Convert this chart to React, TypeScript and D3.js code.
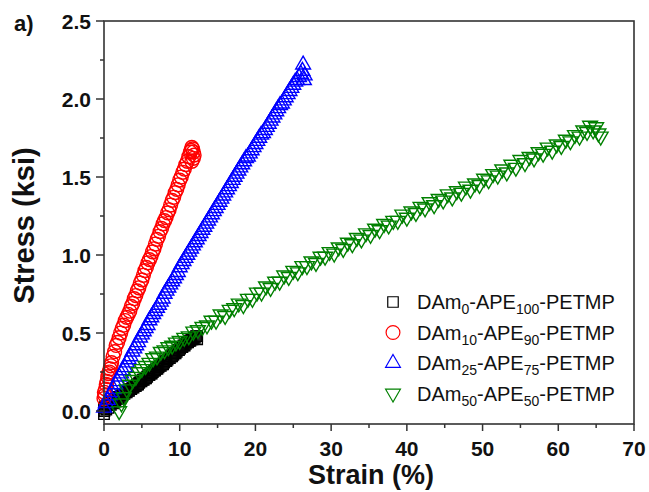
import React from "react";
import * as d3 from "d3";

// ---- Data ----
const seriesNames = ["DAm0-APE100-PETMP", "DAm10-APE90-PETMP", "DAm25-APE75-PETMP", "DAm50-APE50-PETMP"];
const legendParts: [string, string, string, string][] = [
  ["DAm", "0", "-APE", "100"],
  ["DAm", "10", "-APE", "90"],
  ["DAm", "25", "-APE", "75"],
  ["DAm", "50", "-APE", "50"],
];
const seriesColors = ["#000000", "#ff0000", "#0000ff", "#008000"];
const seriesSymbols = ["square", "circle", "triangleUp", "triangleDown"];

const xTicks = [0, 10, 20, 30, 40, 50, 60, 70];
const xMinorTicks = [5, 15, 25, 35, 45, 55, 65];
const yTicks = [0.0, 0.5, 1.0, 1.5, 2.0, 2.5];
const yMinorTicks = [0.25, 0.75, 1.25, 1.75, 2.25];

const dam0: [number, number][] = [
  [0, -0.02], [0, 0.02], [0.05, 0.0], [0.15, 0.03], [0.3, 0.01], [0.45, 0.04], [0.6, 0.02], [0.75, 0.05],
  [0.9, 0.04], [1.05, 0.06], [1.2, 0.05], [1.35, 0.07], [1.5, 0.06], [1.65, 0.08], [1.8, 0.08], [1.95, 0.09],
  [2.1, 0.08], [2.25, 0.1], [2.4, 0.1], [2.55, 0.11], [2.7, 0.11], [2.85, 0.12], [3.0, 0.12], [3.15, 0.13],
  [3.3, 0.13], [3.45, 0.14], [3.6, 0.14], [3.75, 0.15], [3.9, 0.15], [4.05, 0.16], [4.2, 0.16], [4.35, 0.17],
  [4.5, 0.17], [4.65, 0.18], [4.8, 0.19], [4.95, 0.19], [5.1, 0.2], [5.25, 0.2], [5.4, 0.21], [5.55, 0.21],
  [5.7, 0.22], [5.85, 0.23], [6.0, 0.23], [6.15, 0.24], [6.3, 0.24], [6.45, 0.25], [6.6, 0.26], [6.75, 0.26],
  [6.9, 0.27], [7.05, 0.27], [7.2, 0.28], [7.35, 0.29], [7.5, 0.29], [7.65, 0.3], [7.8, 0.3], [7.95, 0.31],
  [8.1, 0.32], [8.25, 0.32], [8.4, 0.33], [8.55, 0.34], [8.7, 0.34], [8.85, 0.35], [9.0, 0.35], [9.15, 0.36],
  [9.3, 0.37], [9.45, 0.37], [9.6, 0.38], [9.75, 0.39], [9.9, 0.39], [10.05, 0.4], [10.2, 0.41], [10.35, 0.41],
  [10.5, 0.42], [10.65, 0.42], [10.8, 0.43], [10.95, 0.44], [11.1, 0.44], [11.25, 0.45], [11.4, 0.45],
  [11.55, 0.46], [11.7, 0.46], [11.85, 0.47], [12.0, 0.47], [12.15, 0.48], [12.3, 0.48], [12.3, 0.46],
];

const dam10: [number, number][] = [
  [0.0, 0.08], [0.05, 0.12], [0.1, 0.1], [0.2, 0.14], [0.3, 0.17], [0.4, 0.19], [0.5, 0.22], [0.6, 0.24],
  [0.7, 0.25], [0.8, 0.27], [0.9, 0.29], [1.0, 0.31], [1.2, 0.35], [1.4, 0.38], [1.6, 0.42], [1.8, 0.44],
  [2.0, 0.47], [2.2, 0.5], [2.4, 0.53], [2.6, 0.55], [2.8, 0.58], [3.0, 0.6], [3.2, 0.62], [3.4, 0.64],
  [3.6, 0.67], [3.8, 0.69], [4.0, 0.72], [4.2, 0.74], [4.4, 0.77], [4.6, 0.79], [4.8, 0.82], [5.0, 0.84],
  [5.2, 0.87], [5.4, 0.9], [5.6, 0.92], [5.8, 0.95], [6.0, 0.97], [6.2, 0.99], [6.4, 1.02], [6.6, 1.04],
  [6.8, 1.07], [7.0, 1.1], [7.2, 1.12], [7.4, 1.15], [7.6, 1.17], [7.8, 1.2], [8.0, 1.22], [8.2, 1.24],
  [8.4, 1.27], [8.6, 1.29], [8.8, 1.32], [9.0, 1.35], [9.2, 1.37], [9.4, 1.4], [9.6, 1.42], [9.8, 1.45],
  [10.0, 1.48], [10.2, 1.5], [10.4, 1.53], [10.6, 1.55], [10.8, 1.58], [11.0, 1.6], [11.2, 1.63], [11.4, 1.66],
  [11.5, 1.67], [11.6, 1.69], [11.7, 1.68], [11.8, 1.66], [11.9, 1.64], [11.8, 1.62], [11.6, 1.6],
];

const dam25: [number, number][] = [
  [0.0, 0.02], [0.25, 0.05], [0.5, 0.07], [0.75, 0.1], [1.0, 0.12], [1.25, 0.14], [1.5, 0.17], [1.75, 0.19],
  [2.0, 0.22], [2.25, 0.24], [2.5, 0.26], [2.75, 0.28], [3.0, 0.31], [3.25, 0.33], [3.5, 0.35], [3.75, 0.38],
  [4.0, 0.4], [4.25, 0.42], [4.5, 0.44], [4.75, 0.47], [5.0, 0.49], [5.25, 0.51], [5.5, 0.53], [5.75, 0.55],
  [6.0, 0.58], [6.25, 0.6], [6.5, 0.62], [6.75, 0.64], [7.0, 0.66], [7.25, 0.68], [7.5, 0.7], [7.75, 0.72],
  [8.0, 0.75], [8.25, 0.77], [8.5, 0.79], [8.75, 0.81], [9.0, 0.83], [9.25, 0.85], [9.5, 0.87], [9.75, 0.89],
  [10.0, 0.92], [10.25, 0.94], [10.5, 0.96], [10.75, 0.98], [11.0, 1.0], [11.25, 1.02], [11.5, 1.04],
  [11.75, 1.06], [12.0, 1.08], [12.25, 1.1], [12.5, 1.12], [12.75, 1.14], [13.0, 1.16], [13.25, 1.18],
  [13.5, 1.2], [13.75, 1.22], [14.0, 1.24], [14.25, 1.26], [14.5, 1.28], [14.75, 1.3], [15.0, 1.32],
  [15.25, 1.34], [15.5, 1.36], [15.75, 1.38], [16.0, 1.4], [16.25, 1.42], [16.5, 1.44], [16.75, 1.46],
  [17.0, 1.48], [17.25, 1.5], [17.5, 1.52], [17.75, 1.54], [18.0, 1.56], [18.25, 1.58], [18.5, 1.6],
  [18.75, 1.62], [19.0, 1.63], [19.25, 1.65], [19.5, 1.67], [19.75, 1.69], [20.0, 1.71], [20.25, 1.73],
  [20.5, 1.75], [20.75, 1.77], [21.0, 1.78], [21.25, 1.8], [21.5, 1.82], [21.75, 1.84], [22.0, 1.86],
  [22.25, 1.88], [22.5, 1.9], [22.75, 1.92], [23.0, 1.94], [23.25, 1.96], [23.5, 1.97], [23.75, 1.99],
  [24.0, 2.01], [24.25, 2.03], [24.5, 2.05], [24.75, 2.07], [25.0, 2.09], [25.25, 2.11], [25.5, 2.12],
  [25.75, 2.14], [26.0, 2.16], [26.2, 2.18], [26.3, 2.22], [26.5, 2.15], [26.4, 2.12],
];

const dam50: [number, number][] = [
  [2.0, 0.0], [2.3, 0.05], [2.6, 0.09], [3.0, 0.14], [3.4, 0.17], [3.8, 0.2], [4.2, 0.22], [4.6, 0.25],
  [5.0, 0.27], [5.5, 0.29], [6.0, 0.31], [6.5, 0.34], [7.0, 0.35], [7.5, 0.38], [8.0, 0.39], [8.5, 0.41],
  [9.0, 0.42], [9.5, 0.44], [10.0, 0.45], [10.6, 0.47], [11.2, 0.48], [11.8, 0.51], [12.4, 0.52], [13.0, 0.54],
  [13.6, 0.55], [14.2, 0.58], [14.8, 0.58], [15.4, 0.62], [16.0, 0.61], [16.6, 0.65], [17.2, 0.66], [17.8, 0.69],
  [18.4, 0.68], [19.0, 0.72], [19.6, 0.72], [20.2, 0.76], [20.8, 0.76], [21.4, 0.8], [22.0, 0.79], [22.6, 0.83],
  [23.2, 0.83], [23.8, 0.87], [24.4, 0.86], [25.0, 0.9], [25.6, 0.89], [26.2, 0.93], [26.8, 0.93], [27.4, 0.96],
  [28.0, 0.95], [28.6, 0.99], [29.2, 0.99], [29.8, 1.02], [30.4, 1.01], [31.0, 1.05], [31.6, 1.04], [32.2, 1.08],
  [32.8, 1.07], [33.4, 1.11], [34.0, 1.1], [34.6, 1.14], [35.2, 1.13], [35.8, 1.17], [36.4, 1.16], [37.0, 1.2],
  [37.6, 1.19], [38.2, 1.22], [38.8, 1.22], [39.4, 1.26], [40.0, 1.24], [40.6, 1.28], [41.2, 1.27], [41.8, 1.31],
  [42.4, 1.3], [43.0, 1.34], [43.6, 1.32], [44.2, 1.36], [44.8, 1.35], [45.4, 1.39], [46.0, 1.37], [46.6, 1.41],
  [47.2, 1.4], [47.8, 1.44], [48.4, 1.42], [49.0, 1.46], [49.6, 1.45], [50.2, 1.49], [50.8, 1.48], [51.4, 1.52],
  [52.0, 1.51], [52.6, 1.55], [53.2, 1.53], [53.8, 1.58], [54.4, 1.56], [55.0, 1.61], [55.6, 1.59], [56.2, 1.63],
  [56.8, 1.62], [57.4, 1.66], [58.0, 1.65], [58.6, 1.69], [59.2, 1.67], [59.8, 1.71], [60.4, 1.7], [61.0, 1.74],
  [61.6, 1.73], [62.2, 1.77], [62.8, 1.76], [63.3, 1.8], [63.8, 1.79], [64.2, 1.83], [64.6, 1.8], [65.0, 1.82],
  [65.3, 1.78], [65.6, 1.76],
];

const allSeries = [dam0, dam10, dam25, dam50];

// ---- Layout ----
const W = 649;
const H = 492;
const left = 104;
const right = 634;
const top = 21;
const bottom = 424;

const FONT = "'Liberation Sans', Arial, Helvetica, sans-serif";

function symbolPath(kind: string): string {
  const map: Record<string, d3.SymbolType> = {
    square: d3.symbolSquare,
    circle: d3.symbolCircle,
    triangleUp: d3.symbolTriangle,
    triangleDown: d3.symbolTriangle,
  };
  const size: Record<string, number> = { square: 110, circle: 150, triangleUp: 95, triangleDown: 95 };
  return d3.symbol(map[kind], size[kind])() || "";
}

export default function App() {
  const x = d3.scaleLinear().domain([0, 70]).range([left, right]);
  const y = d3.scaleLinear().domain([-0.0833, 2.5]).range([bottom, top]);

  const axisColor = "#333";

  return (
    <svg
      width={W}
      height={H}
      viewBox={`0 0 ${W} ${H}`}
      style={{ position: "absolute", left: 0, top: 0, background: "#fff" }}
    >
      <rect x={0} y={0} width={W} height={H} fill="#fff" />
      <text x={14} y={31} fontFamily={FONT} fontWeight="bold" fontSize={22} fill="#111">
        a)
      </text>

      {/* data */}
      {allSeries.map((s, si) => {
        const kind = seriesSymbols[si];
        const p = symbolPath(kind);
        const rot = kind === "triangleDown" ? " rotate(180)" : "";
        return (
          <g key={si}>
            {s.map((d, i) => (
              <path
                key={i}
                d={p}
                transform={`translate(${x(d[0])},${y(d[1])})${rot}`}
                fill="none"
                stroke={seriesColors[si]}
                strokeWidth={1.4}
              />
            ))}
          </g>
        );
      })}

      {/* frame */}
      <rect x={left} y={top} width={right - left} height={bottom - top} fill="none" stroke={axisColor} strokeWidth={1.6} />

      {/* x ticks */}
      {xTicks.map((t) => (
        <g key={"xt" + t}>
          <line x1={x(t)} x2={x(t)} y1={bottom} y2={bottom + 7} stroke={axisColor} strokeWidth={1.5} />
          <text x={x(t)} y={456} textAnchor="middle" fontFamily={FONT} fontWeight="bold" fontSize={21} fill="#111">
            {t}
          </text>
        </g>
      ))}
      {xMinorTicks.map((t) => (
        <line key={"xm" + t} x1={x(t)} x2={x(t)} y1={bottom} y2={bottom + 4} stroke={axisColor} strokeWidth={1.5} />
      ))}

      {/* y ticks */}
      {yTicks.map((t) => (
        <g key={"yt" + t}>
          <line x1={left - 8} x2={left} y1={y(t)} y2={y(t)} stroke={axisColor} strokeWidth={1.5} />
          <text x={91} y={y(t) + 7.5} textAnchor="end" fontFamily={FONT} fontWeight="bold" fontSize={21} fill="#111">
            {t.toFixed(1)}
          </text>
        </g>
      ))}
      {yMinorTicks.map((t) => (
        <line key={"ym" + t} x1={left - 4} x2={left} y1={y(t)} y2={y(t)} stroke={axisColor} strokeWidth={1.5} />
      ))}

      {/* axis titles */}
      <text x={(left + right) / 2 + 2} y={484} textAnchor="middle" fontFamily={FONT} fontWeight="bold" fontSize={27} fill="#111">
        Strain (%)
      </text>
      <text
        transform={`translate(34,${(top + bottom) / 2 + 3}) rotate(-90)`}
        textAnchor="middle"
        fontFamily={FONT}
        fontWeight="bold"
        fontSize={29}
        fill="#111"
      >
        Stress (ksi)
      </text>

      {/* legend */}
      {legendParts.map((lp, i) => {
        const ly = 302 + i * 30.5;
        const kind = seriesSymbols[i];
        const rot = kind === "triangleDown" ? " rotate(180)" : "";
        return (
          <g key={"lg" + i} aria-label={seriesNames[i]}>
            <path
              d={symbolPath(kind)}
              transform={`translate(393,${ly})${rot}`}
              fill="none"
              stroke={seriesColors[i]}
              strokeWidth={1.2}
            />
            <text x={417} y={ly + 7} fontFamily={FONT} fontSize={20} fill="#111">
              <tspan>{lp[0]}</tspan>
              <tspan fontSize={14} dy={5}>{lp[1]}</tspan>
              <tspan dy={-5}>{lp[2]}</tspan>
              <tspan fontSize={14} dy={5}>{lp[3]}</tspan>
              <tspan dy={-5}>-PETMP</tspan>
            </text>
          </g>
        );
      })}
    </svg>
  );
}
